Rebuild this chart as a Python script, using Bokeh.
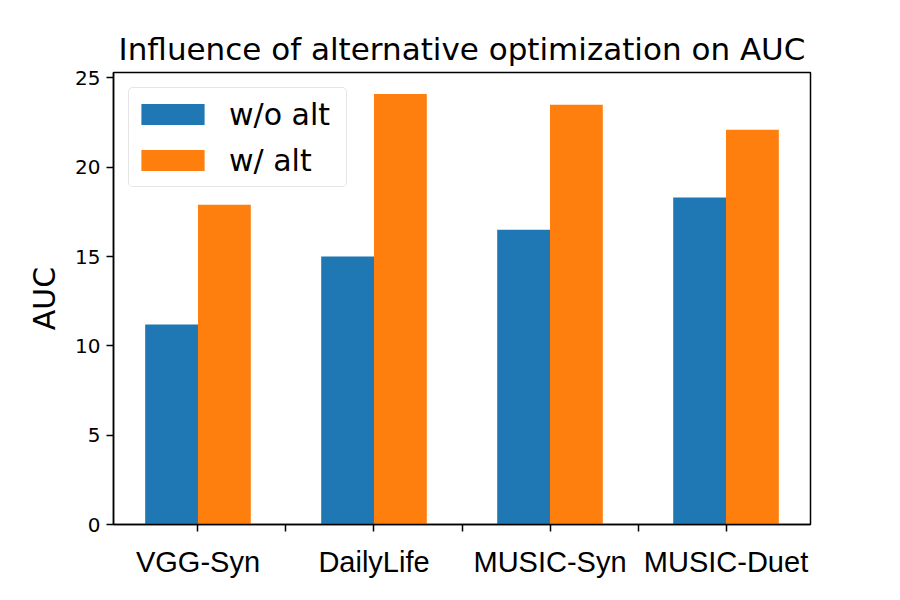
import numpy as np
from bokeh.plotting import figure
from bokeh.models import FixedTicker, Range1d, Legend, LegendItem
from bokeh.embed import file_html
from bokeh.resources import INLINE

categories = ["VGG-Syn", "DailyLife", "MUSIC-Syn", "MUSIC-Duet"]
wo_alt = [11.2, 15.0, 16.5, 18.3]
w_alt = [17.9, 24.1, 23.5, 22.1]
y_ticks = [0, 5, 10, 15, 20, 25]

bar_w = 0.3
idx = np.arange(len(categories))

p = figure(width=884, height=584, output_backend="svg", toolbar_location=None,
           x_range=Range1d(-0.48, 3.48), y_range=Range1d(0, 25.3),
           min_border_left=113, min_border_right=74, min_border_top=72, min_border_bottom=60)

r1 = p.vbar(x=idx - bar_w / 2, top=wo_alt, width=bar_w, fill_color="#1f77b4", line_color=None)
r2 = p.vbar(x=idx + bar_w / 2, top=w_alt, width=bar_w, fill_color="#ff7f0e", line_color=None)

p.title.text = "Influence of alternative optimization on AUC"
p.title.text_font = "DejaVu Sans"
p.title.text_font_size = "31px"
p.title.text_font_style = "normal"
p.title.text_color = "black"
p.title.align = "center"
p.title.standoff = 11

p.xgrid.visible = False
p.ygrid.visible = False
p.outline_line_color = "black"
p.outline_line_width = 1.5

xt = [i * 0.5 for i in range(2 * len(categories) - 1)]
p.xaxis.ticker = FixedTicker(ticks=xt)
p.xaxis.major_label_overrides = {t: (categories[int(t)] if float(t).is_integer() else "") for t in xt}
p.xaxis.minor_tick_line_color = None
p.xaxis.major_label_text_font = "Liberation Sans"
p.xaxis.major_label_text_font_size = "29px"
p.xaxis.major_label_text_color = "black"
p.xaxis.major_tick_out = 7
p.xaxis.major_tick_in = 0
p.xaxis.major_label_standoff = 14

p.yaxis.ticker = FixedTicker(ticks=y_ticks)
p.yaxis.minor_tick_line_color = None
p.yaxis.major_label_text_font = "DejaVu Sans"
p.yaxis.major_label_text_font_size = "20px"
p.yaxis.major_label_text_color = "black"
p.yaxis.major_tick_out = 7
p.yaxis.major_tick_in = 0
p.yaxis.major_label_standoff = 6
p.yaxis.axis_label = "AUC"
p.yaxis.axis_label_text_font = "DejaVu Sans"
p.yaxis.axis_label_text_font_size = "30px"
p.yaxis.axis_label_text_font_style = "normal"
p.yaxis.axis_label_text_color = "black"
p.yaxis.axis_label_standoff = 10

for ax in (p.xaxis, p.yaxis):
    ax.axis_line_color = "black"
    ax.axis_line_width = 1.5
    ax.major_tick_line_color = "black"
    ax.major_tick_line_width = 1.5

legend = Legend(items=[LegendItem(label="w/o alt", renderers=[r1]),
                       LegendItem(label="w/ alt", renderers=[r2])],
                location="top_left")
legend.margin = 15
legend.padding = 4
legend.spacing = 2
legend.glyph_width = 79
legend.glyph_height = 26
legend.label_height = 44
legend.label_width = 113
legend.label_standoff = 17
legend.label_text_font = "DejaVu Sans"
legend.label_text_font_size = "30px"
legend.label_text_color = "black"
legend.border_line_color = "#cccccc"
legend.border_line_width = 1.5
legend.background_fill_alpha = 0.8
try:
    legend.border_radius = 5
except Exception:
    pass
p.add_layout(legend)

open("out.html", "w").write(file_html(p, INLINE))
